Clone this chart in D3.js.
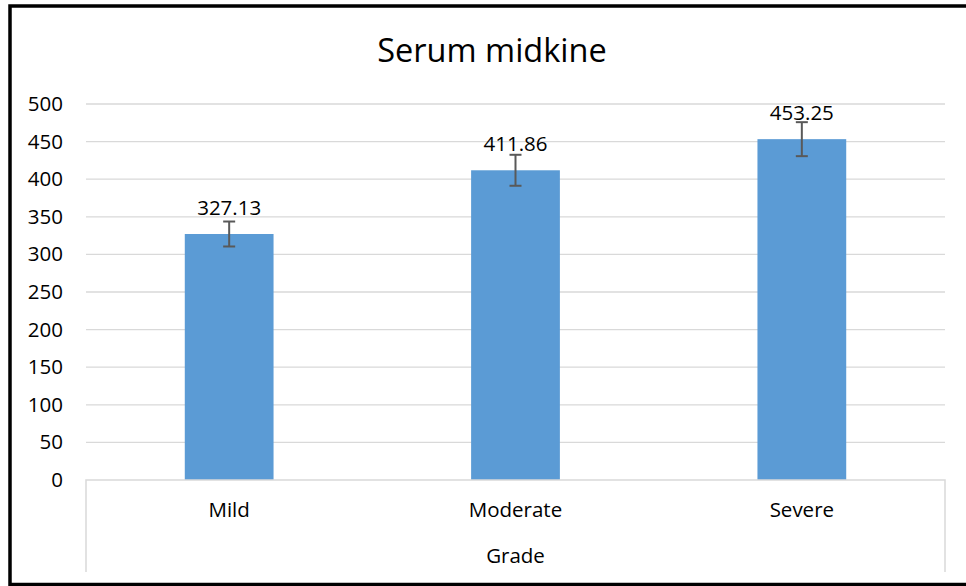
<!DOCTYPE html>
<html>
<head>
<meta charset="utf-8">
<script src="https://cdn.jsdelivr.net/npm/d3@7"></script>
<style>
  body { margin: 0; background: #fff; }
  text { font-family: "Open Sans", "Liberation Sans", sans-serif; fill: #000; }
</style>
</head>
<body>
<svg id="chart"></svg>
<script>
const grades = ['Mild', 'Moderate', 'Severe'];
const means = [327.13, 411.86, 453.25];
const errors = [16.6, 20.6, 22.6];
const yTicks = [0, 50, 100, 150, 200, 250, 300, 350, 400, 450, 500];

const width = 966;
const height = 586;
const plot = { left: 86, right: 945, top: 104, bottom: 480 };

const svg = d3.select('#chart')
    .attr('width', width)
    .attr('height', height);

// outer frame
svg.append('rect')
    .attr('x', 10)
    .attr('y', 6)
    .attr('width', 970)
    .attr('height', 578.5)
    .attr('fill', 'none')
    .attr('stroke', '#000')
    .attr('stroke-width', 3.5);

var x = d3.scaleBand()
    .domain(grades)
    .range([plot.left, plot.right])
    .paddingInner(0.69)
    .paddingOuter(0.345);

var xBand = d3.scaleBand()
    .domain(grades)
    .range([plot.left, plot.right]);

var y = d3.scaleLinear()
    .domain([0, 500])
    .range([plot.bottom, plot.top]);

// gridlines
svg.append('g')
    .selectAll('line')
    .data(yTicks.slice(1))
    .join('line')
    .attr('x1', plot.left)
    .attr('x2', plot.right)
    .attr('y1', d => y(d))
    .attr('y2', d => y(d))
    .attr('stroke', '#d9d9d9')
    .attr('stroke-width', 1.3);

// y axis labels
const gy = svg.append('g')
    .attr('transform', `translate(${plot.left}, 0)`)
    .call(d3.axisLeft(y).tickValues(yTicks).tickSize(0).tickPadding(23));
gy.select('.domain').remove();
gy.selectAll('text')
    .style('font-size', '20.5px')
    .style('font-family', '"Open Sans", sans-serif')
    .attr('fill', '#000');

// bars
svg.selectAll('.bar')
    .data(grades)
    .join('rect')
    .attr('class', 'bar')
    .attr('x', d => x(d))
    .attr('y', (d, i) => y(means[i]))
    .attr('width', x.bandwidth())
    .attr('height', (d, i) => y(0) - y(means[i]))
    .attr('fill', '#5b9bd5');

// error bars
const eb = svg.append('g')
    .attr('stroke', '#595959')
    .attr('stroke-width', 2);
grades.forEach((g, i) => {
    const cx = x(g) + x.bandwidth() / 2;
    const top = y(means[i] + errors[i]);
    const bot = y(means[i] - errors[i]);
    eb.append('line').attr('x1', cx).attr('x2', cx).attr('y1', top).attr('y2', bot);
    eb.append('line').attr('x1', cx - 6).attr('x2', cx + 6).attr('y1', top).attr('y2', top);
    eb.append('line').attr('x1', cx - 6).attr('x2', cx + 6).attr('y1', bot).attr('y2', bot);
});

// value labels
svg.selectAll('.val')
    .data(grades)
    .join('text')
    .attr('class', 'val')
    .attr('x', d => x(d) + x.bandwidth() / 2)
    .attr('y', (d, i) => y(means[i]) - 19)
    .attr('text-anchor', 'middle')
    .style('font-size', '20.5px')
    .text((d, i) => means[i].toFixed(2));

// category axis box
const axisBottom = 572;
svg.append('path')
    .attr('d', `M${plot.left},${axisBottom}V${plot.bottom}H${plot.right}V${axisBottom}`)
    .attr('fill', 'none')
    .attr('stroke', '#d9d9d9')
    .attr('stroke-width', 1.5);

// category labels
svg.selectAll('.cat')
    .data(grades)
    .join('text')
    .attr('class', 'cat')
    .attr('x', d => xBand(d) + xBand.bandwidth() / 2)
    .attr('y', 517)
    .attr('text-anchor', 'middle')
    .style('font-size', '20.5px')
    .text(d => d);

svg.append('text')
    .attr('x', (plot.left + plot.right) / 2)
    .attr('y', 563)
    .attr('text-anchor', 'middle')
    .style('font-size', '20.5px')
    .text('Grade');

svg.append('text')
    .attr('x', 492)
    .attr('y', 62)
    .attr('text-anchor', 'middle')
    .style('font-size', '32.5px')
    .text('Serum midkine');
</script>
</body>
</html>
